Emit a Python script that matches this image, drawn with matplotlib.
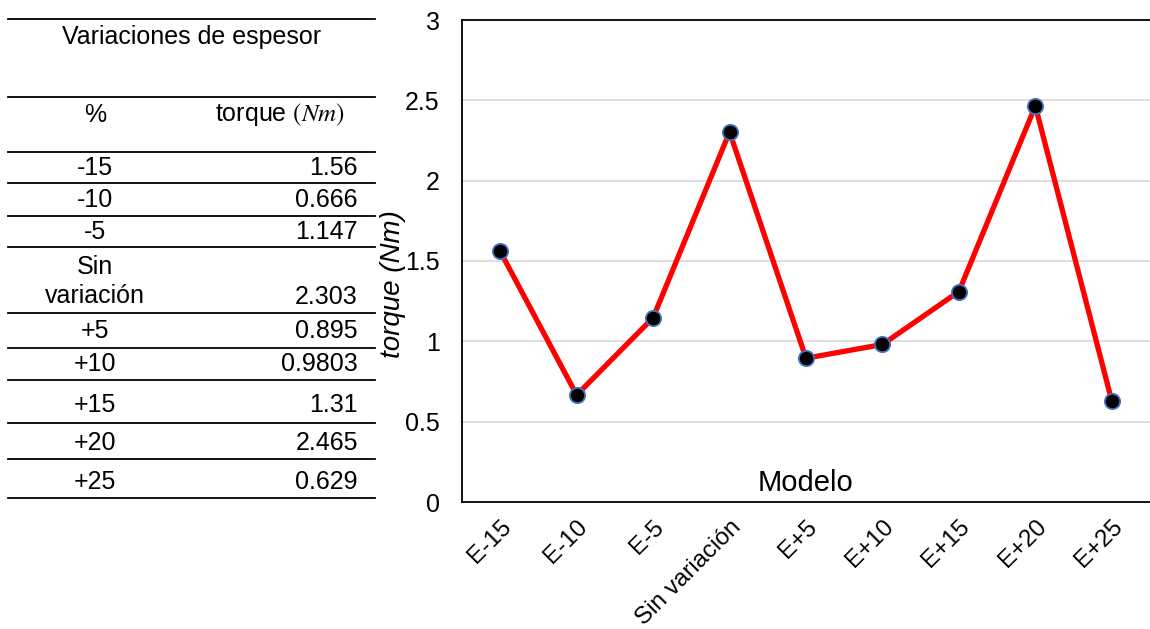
import numpy as np
import matplotlib.pyplot as plt
from matplotlib.lines import Line2D

plt.rcParams['font.family'] = ['Liberation Sans', 'DejaVu Sans']
plt.rcParams['mathtext.fontset'] = 'stix'

# data
modelos = ['E-15', 'E-10', 'E-5', 'Sin variación', 'E+5', 'E+10', 'E+15', 'E+20', 'E+25']
pct = ['-15', '-10', '-5', 'Sin\nvariación', '+5', '+10', '+15', '+20', '+25']
torque = [1.56, 0.666, 1.147, 2.303, 0.895, 0.9803, 1.31, 2.465, 0.629]
torque_txt = ['1.56', '0.666', '1.147', '2.303', '0.895', '0.9803', '1.31', '2.465', '0.629']
yticks = [0, 0.5, 1, 1.5, 2, 2.5, 3]

W, H = 1150, 629
fig = plt.figure(figsize=(W / 100, H / 100), dpi=100)

def fx(px):
    return px / W

def fy(py):
    return 1 - py / H

FS = 18

# ---- table on the left ----
line_y = [19, 97, 152, 183, 216, 247, 313, 348, 380, 423, 459, 498]
for ly in line_y:
    fig.add_artist(Line2D([fx(8), fx(375)], [fy(ly), fy(ly)], color='black', lw=1.3))

fig.text(fx(192), fy(37), 'Variaciones de espesor', ha='center', va='center', fontsize=FS)
fig.text(fx(95), fy(115), '%', ha='center', va='center', fontsize=FS)
fig.text(fx(280), fy(115), 'torque ' + r'$(Nm)$', ha='center', va='center', fontsize=FS)

row_y = [168, 200, 232, 297, 331, 364, 405, 443, 482]
for p, t, ry in zip(pct, torque_txt, row_y):
    if '\n' in p:
        fig.text(fx(95), fy(ry + 11), p, ha='center', va='bottom', fontsize=FS, linespacing=1.25)
    else:
        fig.text(fx(95), fy(ry), p, ha='center', va='center', fontsize=FS)
    fig.text(fx(358), fy(ry), t, ha='right', va='center', fontsize=FS)

# ---- chart ----
ax = fig.add_axes([fx(462), fy(502), fx(1150) - fx(462), fy(20) - fy(502)])
x = np.arange(len(modelos))
ax.plot(x, torque, color='#ff0000', lw=3.8, marker='o', markersize=11,
        markerfacecolor='black', markeredgecolor='#4472c4', markeredgewidth=1.3, zorder=3)

ax.set_xlim(-0.5, len(modelos) - 0.5)
ax.set_ylim(0, 3)
ax.set_yticks(yticks)
ax.set_yticklabels([f'{v:g}' for v in yticks], fontsize=FS)
ax.set_xticks(x)
ax.set_xticklabels(modelos, rotation=45, ha='right', rotation_mode='anchor', fontsize=17.5)
ax.tick_params(axis='both', length=0)
ax.tick_params(axis='y', pad=16)
ax.tick_params(axis='x', pad=10)
ax.grid(axis='y', color='#d9d9d9', lw=1.2)
ax.set_axisbelow(True)
for s in ['left', 'top', 'bottom']:
    ax.spines[s].set_linewidth(1.3)
ax.spines['right'].set_visible(False)

ax.text(0.5, (502 - 483) / 482, 'Modelo', transform=ax.transAxes, ha='center', va='center', fontsize=21)
fig.text(fx(393), fy(284), 'torque (Nm)', rotation=90, ha='center', va='center',
         fontsize=20, style='italic')

fig.savefig('out.png', dpi=100)
